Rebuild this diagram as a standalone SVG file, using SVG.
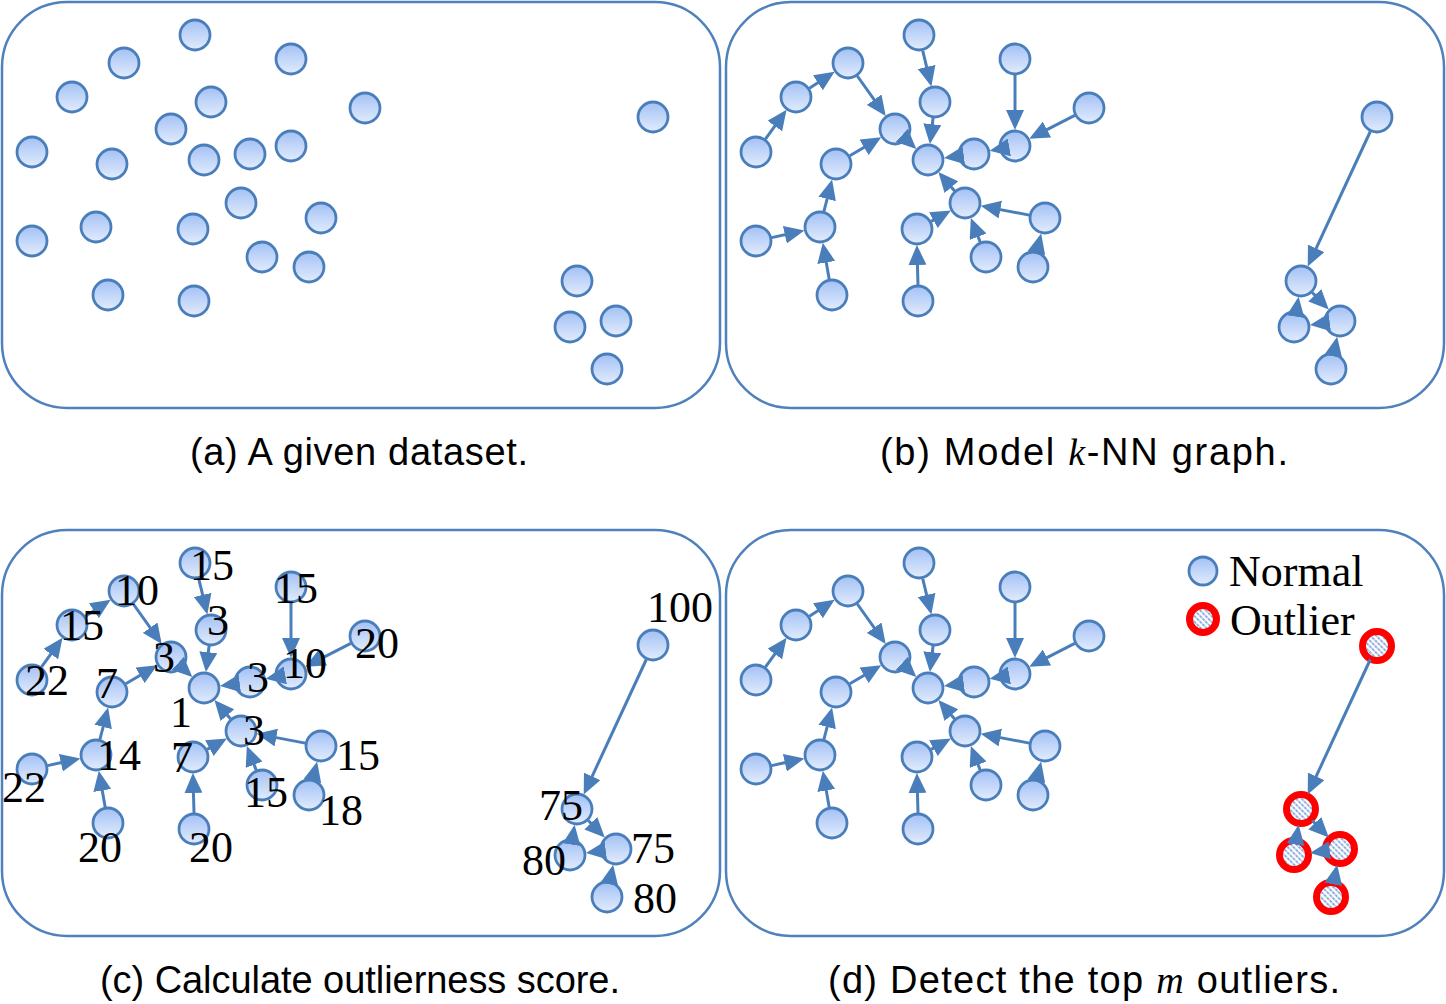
<svg xmlns="http://www.w3.org/2000/svg" xmlns:xlink="http://www.w3.org/1999/xlink" width="1446" height="1004" viewBox="0 0 1446 1004">
<style>
.box{fill:#fff;stroke:#4f81bd;stroke-width:2.5}
.n{fill:url(#ng);stroke:#4a7ebb;stroke-width:2.8}
.o{fill:url(#hatch);stroke:#ff0000;stroke-width:7}
.e line{stroke:#4a7ebb;stroke-width:3;marker-end:url(#ah)}
.lab{font-family:"Liberation Serif","Times New Roman",serif;font-size:44px;fill:#000;text-anchor:middle}
.leg{font-family:"Liberation Serif","Times New Roman",serif;font-size:44px;fill:#000}
.cap{font-family:"Liberation Sans",Arial,sans-serif;font-size:38px;fill:#000}
.mi{font-family:"Liberation Serif","Times New Roman",serif;font-style:italic}
</style>
<defs>
<linearGradient id="ng" x1="0" y1="0" x2="0" y2="1">
<stop offset="0" stop-color="#a3c1f5"/>
<stop offset="1" stop-color="#e2ecfd"/>
</linearGradient>
<pattern id="hatch" width="4" height="4" patternUnits="userSpaceOnUse" patternTransform="rotate(-45)">
<rect width="4" height="4" fill="#ffffff"/>
<line x1="1" y1="0" x2="1" y2="4" stroke="#7a9fd8" stroke-width="1.7" stroke-dasharray="2.5 1"/>
</pattern>
<marker id="ah" markerUnits="userSpaceOnUse" markerWidth="20" markerHeight="18" refX="16" refY="9" orient="auto">
<path d="M0,0 L20,9 L0,18 Z" fill="#4a7ebb"/>
</marker>
<g id="edges" class="e">
<line x1="41.4" y1="139.1" x2="60.2" y2="113.1"/>
<line x1="85.4" y1="88.2" x2="107.3" y2="74.0"/>
<line x1="133.3" y1="76.0" x2="159.4" y2="112.7"/>
<line x1="182.7" y1="140.0" x2="189.4" y2="146.3"/>
<line x1="198.7" y1="50.6" x2="206.4" y2="82.5"/>
<line x1="209.1" y1="117.9" x2="206.4" y2="140.1"/>
<line x1="291" y1="75" x2="291" y2="126"/>
<line x1="350.8" y1="115.3" x2="308.8" y2="136.9"/>
<line x1="275.3" y1="149.1" x2="269.6" y2="150.1"/>
<line x1="234.1" y1="156.1" x2="223.9" y2="157.4"/>
<line x1="230.6" y1="190.9" x2="217.0" y2="175.1"/>
<line x1="125.8" y1="155.8" x2="153.8" y2="139.2"/>
<line x1="99.9" y1="211.5" x2="107.1" y2="183.4"/>
<line x1="47.6" y1="237.6" x2="76.5" y2="231.3"/>
<line x1="105.2" y1="279.2" x2="99.5" y2="246.7"/>
<line x1="194" y1="285" x2="193" y2="249"/>
<line x1="207.1" y1="221.4" x2="223.4" y2="212.5"/>
<line x1="256.2" y1="242.1" x2="248.3" y2="221.8"/>
<line x1="305.3" y1="215.1" x2="260.6" y2="206.6"/>
<line x1="312.8" y1="251.4" x2="316.2" y2="237.5"/>
<line x1="646.3" y1="131.5" x2="585.4" y2="262.9"/>
<line x1="588.2" y1="292.5" x2="602.0" y2="306.6"/>
<line x1="600.1" y1="323.1" x2="589.9" y2="324.4"/>
<line x1="572.4" y1="311.2" x2="574.0" y2="300.8"/>
<line x1="609.9" y1="353.3" x2="612.4" y2="340.6"/>
</g>
</defs>

<!-- Panel (a) -->
<g id="panel-a">
<rect class="box" x="2" y="2" width="718" height="406" rx="65" ry="65"/>
<g id="a-n1"><circle class="n" cx="195" cy="35" r="15"/></g>
<g id="a-n2"><circle class="n" cx="124" cy="63" r="15"/></g>
<g id="a-n3"><circle class="n" cx="291" cy="59" r="15"/></g>
<g id="a-n4"><circle class="n" cx="72" cy="97" r="15"/></g>
<g id="a-n5"><circle class="n" cx="211" cy="102" r="15"/></g>
<g id="a-n6"><circle class="n" cx="365" cy="108" r="15"/></g>
<g id="a-n7"><circle class="n" cx="171" cy="129" r="15"/></g>
<g id="a-n8"><circle class="n" cx="32" cy="152" r="15"/></g>
<g id="a-n9"><circle class="n" cx="112" cy="164" r="15"/></g>
<g id="a-n10"><circle class="n" cx="204" cy="160" r="15"/></g>
<g id="a-n11"><circle class="n" cx="250" cy="154" r="15"/></g>
<g id="a-n12"><circle class="n" cx="291" cy="146" r="15"/></g>
<g id="a-n13"><circle class="n" cx="241" cy="203" r="15"/></g>
<g id="a-n14"><circle class="n" cx="321" cy="218" r="15"/></g>
<g id="a-n15"><circle class="n" cx="32" cy="241" r="15"/></g>
<g id="a-n16"><circle class="n" cx="96" cy="227" r="15"/></g>
<g id="a-n17"><circle class="n" cx="193" cy="229" r="15"/></g>
<g id="a-n18"><circle class="n" cx="262" cy="257" r="15"/></g>
<g id="a-n19"><circle class="n" cx="309" cy="267" r="15"/></g>
<g id="a-n20"><circle class="n" cx="108" cy="295" r="15"/></g>
<g id="a-n21"><circle class="n" cx="194" cy="301" r="15"/></g>
<g id="a-n22"><circle class="n" cx="653" cy="117" r="15"/></g>
<g id="a-n23"><circle class="n" cx="577" cy="281" r="15"/></g>
<g id="a-n24"><circle class="n" cx="570" cy="327" r="15"/></g>
<g id="a-n25"><circle class="n" cx="616" cy="321" r="15"/></g>
<g id="a-n26"><circle class="n" cx="607" cy="369" r="15"/></g>
</g>

<!-- Panel (b) -->
<g id="panel-b" transform="translate(724,0)">
<rect class="box" x="2" y="2" width="718" height="406" rx="65" ry="65"/>
<g id="b-n1"><circle class="n" cx="195" cy="35" r="15"/></g>
<g id="b-n2"><circle class="n" cx="124" cy="63" r="15"/></g>
<g id="b-n3"><circle class="n" cx="291" cy="59" r="15"/></g>
<g id="b-n4"><circle class="n" cx="72" cy="97" r="15"/></g>
<g id="b-n5"><circle class="n" cx="211" cy="102" r="15"/></g>
<g id="b-n6"><circle class="n" cx="365" cy="108" r="15"/></g>
<g id="b-n7"><circle class="n" cx="171" cy="129" r="15"/></g>
<g id="b-n8"><circle class="n" cx="32" cy="152" r="15"/></g>
<g id="b-n9"><circle class="n" cx="112" cy="164" r="15"/></g>
<g id="b-n10"><circle class="n" cx="204" cy="160" r="15"/></g>
<g id="b-n11"><circle class="n" cx="250" cy="154" r="15"/></g>
<g id="b-n12"><circle class="n" cx="291" cy="146" r="15"/></g>
<g id="b-n13"><circle class="n" cx="241" cy="203" r="15"/></g>
<g id="b-n14"><circle class="n" cx="321" cy="218" r="15"/></g>
<g id="b-n15"><circle class="n" cx="32" cy="241" r="15"/></g>
<g id="b-n16"><circle class="n" cx="96" cy="227" r="15"/></g>
<g id="b-n17"><circle class="n" cx="193" cy="229" r="15"/></g>
<g id="b-n18"><circle class="n" cx="262" cy="257" r="15"/></g>
<g id="b-n19"><circle class="n" cx="309" cy="267" r="15"/></g>
<g id="b-n20"><circle class="n" cx="108" cy="295" r="15"/></g>
<g id="b-n21"><circle class="n" cx="194" cy="301" r="15"/></g>
<g id="b-n22"><circle class="n" cx="653" cy="117" r="15"/></g>
<g id="b-n23"><circle class="n" cx="577" cy="281" r="15"/></g>
<g id="b-n24"><circle class="n" cx="570" cy="327" r="15"/></g>
<g id="b-n25"><circle class="n" cx="616" cy="321" r="15"/></g>
<g id="b-n26"><circle class="n" cx="607" cy="369" r="15"/></g>
<g id="b-connectors"><use href="#edges" xlink:href="#edges"/></g>
</g>

<!-- Panel (c) -->
<g id="panel-c" transform="translate(0,528)">
<rect class="box" x="2" y="2" width="718" height="406" rx="65" ry="65"/>
<g id="c-n1"><circle class="n" cx="195" cy="35" r="15"/></g>
<g id="c-n2"><circle class="n" cx="124" cy="63" r="15"/></g>
<g id="c-n3"><circle class="n" cx="291" cy="59" r="15"/></g>
<g id="c-n4"><circle class="n" cx="72" cy="97" r="15"/></g>
<g id="c-n5"><circle class="n" cx="211" cy="102" r="15"/></g>
<g id="c-n6"><circle class="n" cx="365" cy="108" r="15"/></g>
<g id="c-n7"><circle class="n" cx="171" cy="129" r="15"/></g>
<g id="c-n8"><circle class="n" cx="32" cy="152" r="15"/></g>
<g id="c-n9"><circle class="n" cx="112" cy="164" r="15"/></g>
<g id="c-n10"><circle class="n" cx="204" cy="160" r="15"/></g>
<g id="c-n11"><circle class="n" cx="250" cy="154" r="15"/></g>
<g id="c-n12"><circle class="n" cx="291" cy="146" r="15"/></g>
<g id="c-n13"><circle class="n" cx="241" cy="203" r="15"/></g>
<g id="c-n14"><circle class="n" cx="321" cy="218" r="15"/></g>
<g id="c-n15"><circle class="n" cx="32" cy="241" r="15"/></g>
<g id="c-n16"><circle class="n" cx="96" cy="227" r="15"/></g>
<g id="c-n17"><circle class="n" cx="193" cy="229" r="15"/></g>
<g id="c-n18"><circle class="n" cx="262" cy="257" r="15"/></g>
<g id="c-n19"><circle class="n" cx="309" cy="267" r="15"/></g>
<g id="c-n20"><circle class="n" cx="108" cy="295" r="15"/></g>
<g id="c-n21"><circle class="n" cx="194" cy="301" r="15"/></g>
<g id="c-n22"><circle class="n" cx="653" cy="117" r="15"/></g>
<g id="c-n23"><circle class="n" cx="577" cy="281" r="15"/></g>
<g id="c-n24"><circle class="n" cx="570" cy="327" r="15"/></g>
<g id="c-n25"><circle class="n" cx="616" cy="321" r="15"/></g>
<g id="c-n26"><circle class="n" cx="607" cy="369" r="15"/></g>
<g id="c-connectors"><use href="#edges" xlink:href="#edges"/></g>
</g>
<g id="c-scores" class="lab">
<text x="212" y="580">15</text>
<text x="137" y="605">10</text>
<text x="82" y="640">15</text>
<text x="47" y="695">22</text>
<text x="164" y="672">3</text>
<text x="218" y="635">3</text>
<text x="296" y="603">15</text>
<text x="377" y="658">20</text>
<text x="305" y="678">10</text>
<text x="258" y="692">3</text>
<text x="107" y="698">7</text>
<text x="181" y="727">1</text>
<text x="254" y="745">3</text>
<text x="119" y="770">14</text>
<text x="182" y="772">7</text>
<text x="358" y="770">15</text>
<text x="24" y="802">22</text>
<text x="266" y="807">15</text>
<text x="341" y="825">18</text>
<text x="100" y="862">20</text>
<text x="211" y="862">20</text>
<text x="680" y="622">100</text>
<text x="561" y="820">75</text>
<text x="544" y="875">80</text>
<text x="653" y="863">75</text>
<text x="655" y="913">80</text>
</g>

<!-- Panel (d) -->
<g id="panel-d" transform="translate(724,528)">
<rect class="box" x="2" y="2" width="718" height="406" rx="65" ry="65"/>
<g id="d-n1"><circle class="n" cx="195" cy="35" r="15"/></g>
<g id="d-n2"><circle class="n" cx="124" cy="63" r="15"/></g>
<g id="d-n3"><circle class="n" cx="291" cy="59" r="15"/></g>
<g id="d-n4"><circle class="n" cx="72" cy="97" r="15"/></g>
<g id="d-n5"><circle class="n" cx="211" cy="102" r="15"/></g>
<g id="d-n6"><circle class="n" cx="365" cy="108" r="15"/></g>
<g id="d-n7"><circle class="n" cx="171" cy="129" r="15"/></g>
<g id="d-n8"><circle class="n" cx="32" cy="152" r="15"/></g>
<g id="d-n9"><circle class="n" cx="112" cy="164" r="15"/></g>
<g id="d-n10"><circle class="n" cx="204" cy="160" r="15"/></g>
<g id="d-n11"><circle class="n" cx="250" cy="154" r="15"/></g>
<g id="d-n12"><circle class="n" cx="291" cy="146" r="15"/></g>
<g id="d-n13"><circle class="n" cx="241" cy="203" r="15"/></g>
<g id="d-n14"><circle class="n" cx="321" cy="218" r="15"/></g>
<g id="d-n15"><circle class="n" cx="32" cy="241" r="15"/></g>
<g id="d-n16"><circle class="n" cx="96" cy="227" r="15"/></g>
<g id="d-n17"><circle class="n" cx="193" cy="229" r="15"/></g>
<g id="d-n18"><circle class="n" cx="262" cy="257" r="15"/></g>
<g id="d-n19"><circle class="n" cx="309" cy="267" r="15"/></g>
<g id="d-n20"><circle class="n" cx="108" cy="295" r="15"/></g>
<g id="d-n21"><circle class="n" cx="194" cy="301" r="15"/></g>
<g id="d-n22"><circle class="o" cx="653" cy="118" r="14.5"/></g>
<g id="d-n23"><circle class="o" cx="577" cy="281" r="14.5"/></g>
<g id="d-n24"><circle class="o" cx="570" cy="327" r="14.5"/></g>
<g id="d-n25"><circle class="o" cx="616" cy="321" r="14.5"/></g>
<g id="d-n26"><circle class="o" cx="607" cy="369" r="14.5"/></g>
<g id="d-connectors"><use href="#edges" xlink:href="#edges"/></g>
</g>
<g id="legend">
<g id="legend-normal"><circle class="n" cx="1203" cy="571" r="14"/><text class="leg" x="1229" y="586">Normal</text></g>
<g id="legend-outlier"><circle class="o" cx="1203" cy="619" r="13.5"/><text class="leg" x="1230" y="635">Outlier</text></g>
</g>

<!-- Captions -->
<g id="captions">
<text class="cap" x="190" y="465" textLength="338" lengthAdjust="spacing">(a) A given dataset.</text>
<text class="cap" x="880" y="465" textLength="408" lengthAdjust="spacing">(b) Model <tspan class="mi">k</tspan>-NN graph.</text>
<text class="cap" x="100" y="993" textLength="520" lengthAdjust="spacing">(c) Calculate outlierness score.</text>
<text class="cap" x="828" y="993" textLength="512" lengthAdjust="spacing">(d) Detect the top <tspan class="mi">m</tspan> outliers.</text>
</g>
</svg>
